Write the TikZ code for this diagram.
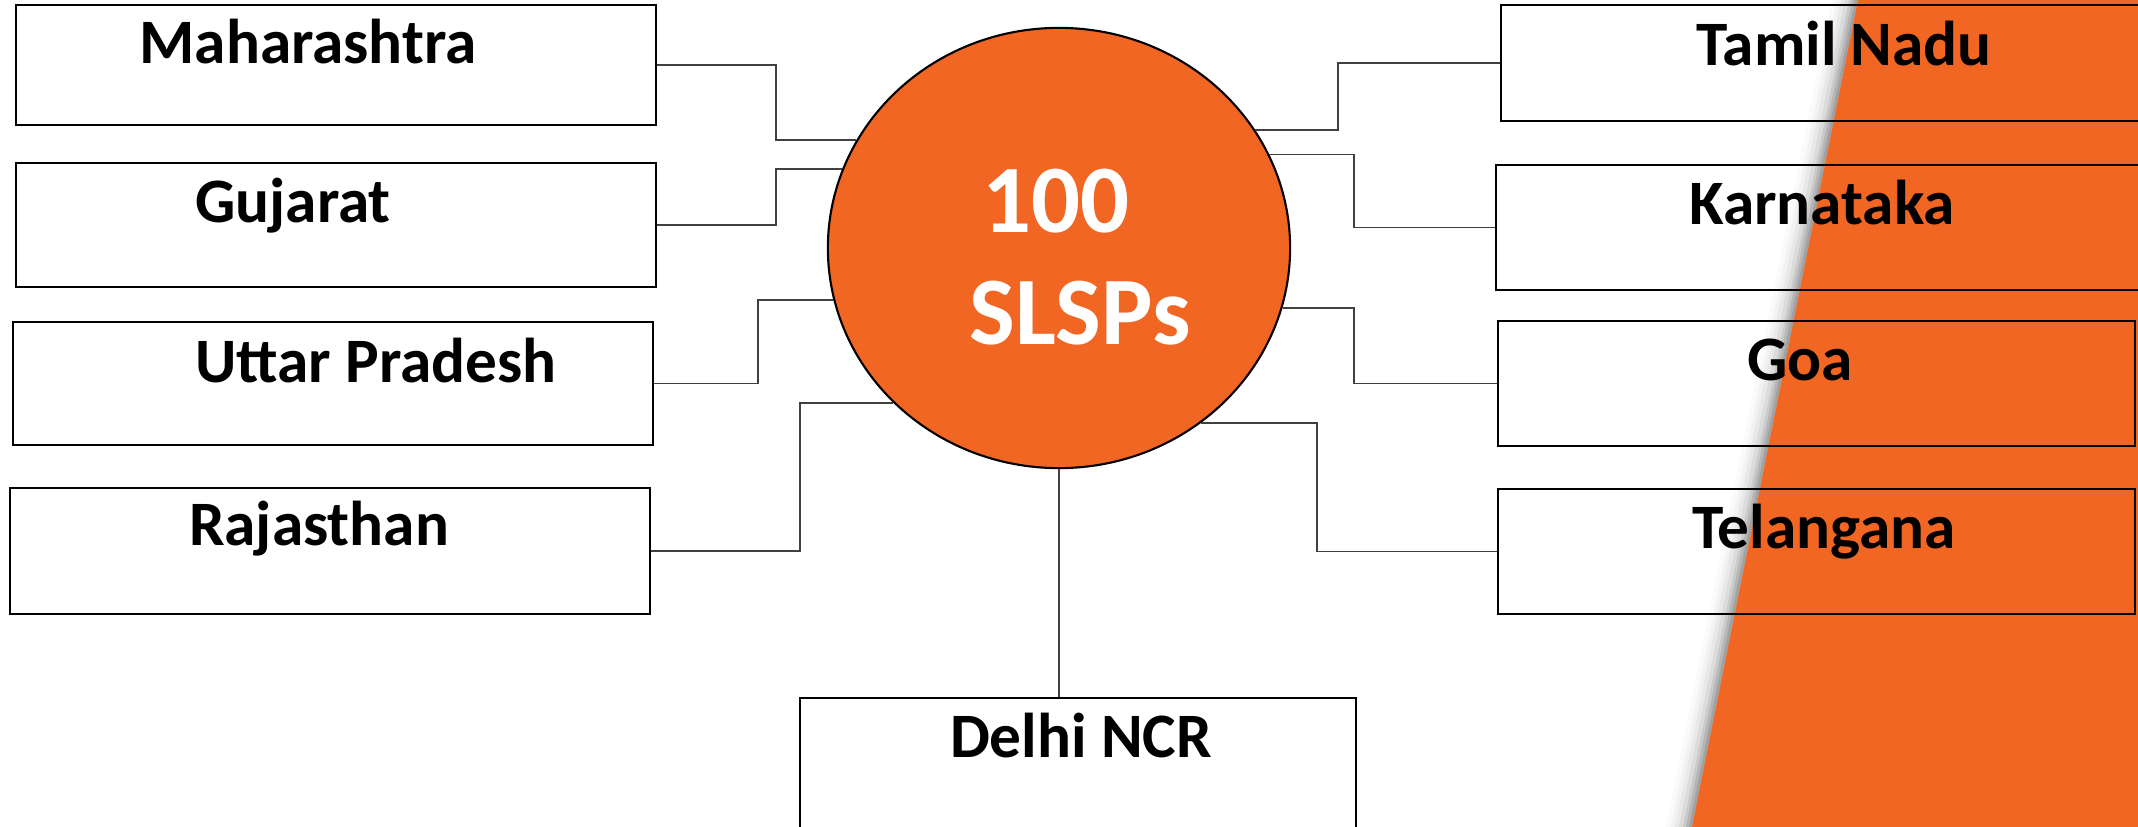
\documentclass[tikz,border=0pt]{standalone}
\usepackage{fontspec}
\setmainfont{Carlito}
\usetikzlibrary{shapes.geometric,positioning}

\definecolor{slspOrange}{RGB}{242,102,36}
\definecolor{linkGray}{RGB}{64,64,64}

\begin{document}
\begin{tikzpicture}[
  x=0.01cm,
  y=-0.01cm,
  line join=miter,
  statebox/.style={
    rectangle,
    draw=black,
    line width=0.6pt,
    inner sep=0pt,
    minimum width=6.4cm
  },
  lbl/.style={
    font=\bfseries\fontsize{18}{20}\selectfont,
    anchor=base,
    inner sep=0pt
  },
  hub/.style={
    ellipse,
    draw=black,
    line width=0.6pt,
    fill=slspOrange,
    minimum width=4.62cm,
    minimum height=4.4cm,
    inner sep=0pt
  },
  hubtxt/.style={
    font=\bfseries\fontsize{27.5}{30}\selectfont,
    text=white,
    anchor=base,
    inner sep=0pt
  },
  link/.style={
    draw=linkGray,
    line width=0.45pt
  }
]

\clip (0,0) rectangle (2138,827);

% orange band on the right, with its soft shadow
\foreach \w/\c in {26/2, 21/5, 17/9, 13/14, 9/21, 6/29, 3/37} {
  \fill[black!\c] ({1858-\w},0) -- (1858,0) -- (1692,827) -- ({1692-\w},827) -- cycle;
}
\fill[slspOrange] (1858,0) -- (2138,0) -- (2138,827) -- (1692,827) -- cycle;

% states on the left
\node[statebox, minimum height=1.2cm] (mah) at (336,65) {};
\node[statebox, minimum height=1.24cm] (guj) at (336,225) {};
\node[statebox, minimum height=1.23cm] (up) at (333,383.5) {};
\node[statebox, minimum height=1.26cm] (raj) at (330,551) {};

% states on the right
\node[statebox, minimum width=6.49cm, minimum height=1.16cm] (tn) at (1825.5,63) {};
\node[statebox, minimum width=6.54cm, minimum height=1.25cm] (kar) at (1823,227.5) {};
\node[statebox, minimum width=6.37cm, minimum height=1.25cm] (goa) at (1816.5,383.5) {};
\node[statebox, minimum width=6.37cm, minimum height=1.25cm] (tel) at (1816.5,551.5) {};

% bottom
\node[statebox, minimum width=5.56cm, minimum height=1.62cm] (delhi) at (1078,779) {};

\node[lbl] (mahL) at (308,63) {Maharashtra};
\node[lbl] (gujL) at (293,222) {Gujarat};
\node[lbl] (upL) at (376,382) {Uttar Pradesh};
\node[lbl] (rajL) at (319,545) {Rajasthan};
\node[lbl] (tnL) at (1844,65) {Tamil Nadu};
\node[lbl] (karL) at (1822,224) {Karnataka};
\node[lbl] (goaL) at (1800,380) {Goa};
\node[lbl] (telL) at (1824,548) {Telangana};
\node[lbl] (delhiL) at (1081,757) {Delhi NCR};

% elbows of the connectors
\coordinate (mahK) at (776,0);
\coordinate (gujK) at (776,0);
\coordinate (upK) at (758,0);
\coordinate (rajK) at (800,0);
\coordinate (tnK) at (1338,0);
\coordinate (karK) at (1354,0);
\coordinate (goaK) at (1354,0);
\coordinate (telK) at (1317,0);

\node[hub] (hub) at (1059,248) {};

\draw[link] (mah.east) -| (mahK |- hub.152) -- (hub.152);
\draw[link] (guj.east) -| (gujK |- hub.160) -- (hub.160);
\draw[link] (up.east) -| (upK |- hub.193) -- (hub.193);
\draw[link] (raj.east) -| (rajK |- hub.223) -- (hub.223);
\draw[link] (tn.west) -| (tnK |- hub.31) -- (hub.31);
\draw[link] (kar.west) -| (karK |- hub.24) -- (hub.24);
\draw[link] (goa.west) -| (goaK |- hub.345) -- (hub.345);
\draw[link] (tel.west) -| (telK |- hub.309) -- (hub.309);
\draw[link] (hub.south) -- (hub.south |- delhi.north);

\node[hubtxt] (hubA) at (1056,232) {100};
\node[hubtxt] (hubB) at (1080,344) {SLSPs};

\end{tikzpicture}
\end{document}
